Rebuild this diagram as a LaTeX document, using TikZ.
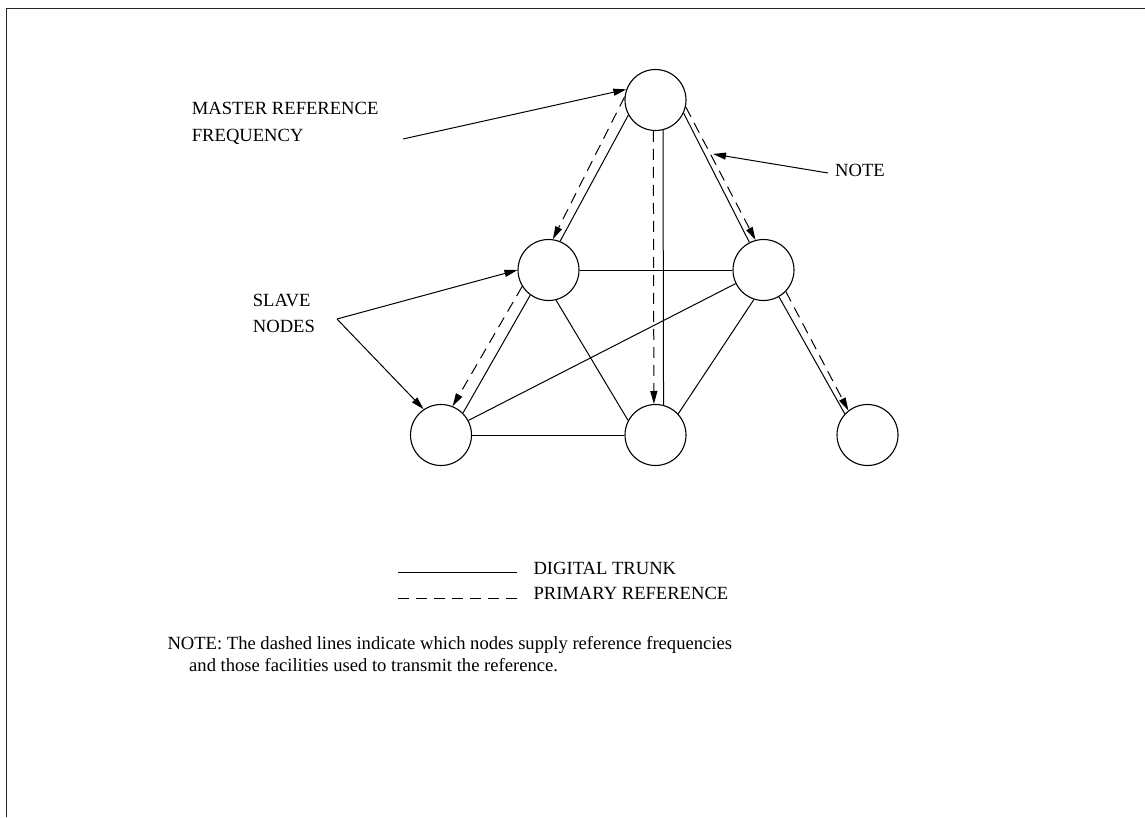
\documentclass[tikz,border=0pt]{standalone}
\usepackage{fontspec}
\setmainfont{Liberation Serif}
\usetikzlibrary{arrows.meta}
\begin{document}
\begin{tikzpicture}[x=1pt,y=-1pt,
  station/.style={draw,circle,minimum size=61pt,inner sep=0pt,line width=1.1pt},
  trunk/.style={line width=1pt},
  primary/.style={line width=1pt,dash pattern=on 11pt off 7pt},
  tip/.style={-{Triangle[length=13pt,width=7pt]}},
  lbl/.style={anchor=base west,inner sep=0pt,font=\fontsize{18.6}{22}\selectfont}]
  \useasboundingbox (0,0) rectangle (1145,817);
  % frame edges
  \draw[line width=1.4pt,black!85] (6.5,817) -- (6.5,8.5) -- (1145,8.5);

  % stations
  \node[station] (T)  at (655.5,100) {};
  \node[station] (ML) at (548.5,270) {};
  \node[station] (MR) at (763.5,270) {};
  \node[station] (BL) at (441,435) {};
  \node[station] (BM) at (655.5,435) {};
  \node[station] (BR) at (867.5,435) {};

  % digital trunks
  \draw[trunk] (T.209) -- (ML.68);
  \draw[trunk] (T.284.2) -- (BM.75.8);
  \draw[trunk] (T.335.5) -- (MR.117);
  \draw[trunk] (ML.0) -- (MR.180);
  \draw[trunk] (ML.234) -- (BL.45);
  \draw[trunk] (ML.284) -- (BM.152);
  \draw[trunk] (MR.252) -- (BM.43.5);
  \draw[trunk] (MR.206) -- (BL.28);
  \draw[trunk] (BL.0) -- (BM.180);
  \draw[trunk] (MR.300.6) -- (BR.137.5);

  % primary reference paths
  \draw[primary,tip] (T.174) -- (ML.82);
  \draw[primary,tip] (T.266.6) -- (BM.93.4);
  \draw[primary,tip] (T.347.5) -- (MR.105);
  \draw[primary,tip] (ML.212.5) -- (BL.68.5);
  \draw[primary,tip] (MR.316) -- (BR.128);

  % callouts
  \node[lbl] (m1) at (191.7,114.3) {MASTER REFERENCE};
  \node[lbl] (m2) at (191.7,141) {FREQUENCY};
  \coordinate (mfrom) at (403,139);
  \draw[trunk,tip] (mfrom) -- (T.160);

  \node[lbl] (n1) at (835,176.5) {NOTE};
  \coordinate (nfrom) at (828,173);
  \coordinate (nto) at (713,154);
  \draw[trunk,tip] (nfrom) -- (nto);

  \node[lbl] (s1) at (252.7,306) {SLAVE};
  \node[lbl] (s2) at (252.7,332.3) {NODES};
  \coordinate (sapex) at (337,319);
  \draw[trunk,tip] (sapex) -- (ML.180);
  \draw[trunk,tip] (sapex) -- (BL.124.5);

  % legend
  \coordinate (la) at (398,572.7);
  \coordinate (lb) at (517,572.7);
  \coordinate (lc) at (398,598.3);
  \coordinate (ld) at (517,598.3);
  \draw[trunk] (la) -- (lb);
  \draw[primary] (lc) -- (ld);
  \node[lbl] (g1) at (533.3,574.5) {DIGITAL TRUNK};
  \node[lbl] (g2) at (533.3,599.5) {PRIMARY REFERENCE};

  % footnote
  \node[lbl] (f1) at (167.3,649) {NOTE: The dashed lines indicate which nodes supply reference frequencies};
  \node[lbl] (f2) at (189,671) {and those facilities used to transmit the reference.};
\end{tikzpicture}
\end{document}
